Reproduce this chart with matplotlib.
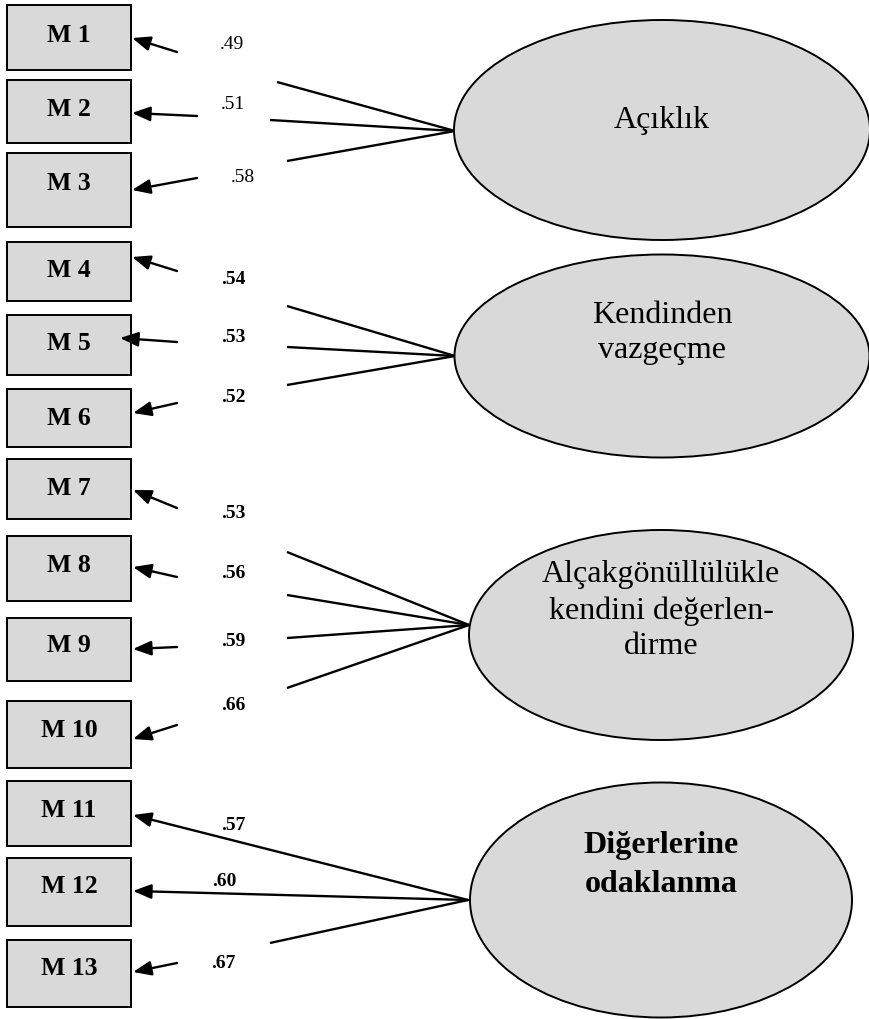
import matplotlib
matplotlib.use('Agg')
import matplotlib.pyplot as plt
from matplotlib.patches import Rectangle, Ellipse

# data
items = ['M 1', 'M 2', 'M 3', 'M 4', 'M 5', 'M 6', 'M 7',
         'M 8', 'M 9', 'M 10', 'M 11', 'M 12', 'M 13']
loadings = ['.49', '.51', '.58', '.54', '.53', '.52', '.53',
            '.56', '.59', '.66', '.57', '.60', '.67']
factor_of_item = [0, 0, 0, 1, 1, 1, 2, 2, 2, 2, 3, 3, 3]
factors = [['Açıklık'],
           ['Kendinden', 'vazgeçme'],
           ['Alçakgönüllülükle', 'kendini değerlen-', 'dirme'],
           ['Diğerlerine', 'odaklanma']]
factor_bold = [False, False, False, True]
loading_bold = [False, False, False, True, True, True, True,
                True, True, True, True, True, True]

# layout (pixels, y down)
box_y = [(5, 70), (80, 143), (153, 227), (242, 301), (315, 375), (389, 447),
         (459, 519), (536, 601), (618, 681), (701, 768), (781, 846),
         (858, 926), (940, 1007)]
box_x = (7, 131)
label_base = [42, 116, 190, 277, 350, 425, 495, 572, 652, 737, 817, 893, 975]
ell = [(662, 130, 416, 220), (662, 356, 415, 203),
       (661, 635, 384, 210), (661, 900, 382, 235)]
ell_text_base = [[128], [323, 358], [582, 619, 654], [853, 892]]
meet = [(455, 131), (455, 356), (469, 625), (468, 900)]
# arrow tail -> head (near the boxes)
arrows = [((177, 52), (132, 38)), ((197, 116), (132, 113)),
          ((197, 178), (132, 190)), ((177, 271), (132, 257)),
          ((177, 342), (120, 338)), ((177, 403), (133, 413)),
          ((177, 508), (133, 490)), ((177, 577), (133, 567)),
          ((177, 647), (133, 649)), ((177, 725), (133, 739)),
          ((468, 900), (133, 815)), ((468, 900), (133, 891)),
          ((177, 963), (133, 972))]
# free ends of lines coming out of the ellipses (None = arrow already joins)
line_ends = [(277, 82), (270, 120), (287, 161), (287, 306), (287, 347),
             (287, 385), (287, 552), (287, 595), (287, 638), (287, 688),
             None, None, (270, 943)]
load_pos = [(232, 44), (233, 104), (243, 177), (233, 279), (233, 338),
            (233, 398), (233, 514), (233, 574), (233, 641), (233, 706),
            (233, 825), (224, 882), (223, 963)]

serif = ['Liberation Serif', 'DejaVu Serif']
fill = '#d9d9d9'

fig = plt.figure(figsize=(8.7, 10.19), dpi=100)
ax = fig.add_axes([0, 0, 1, 1])
ax.set_xlim(0, 870)
ax.set_ylim(1019, 0)
ax.axis('off')

for i, name in enumerate(items):
    y0, y1 = box_y[i]
    ax.add_patch(Rectangle((box_x[0], y0), box_x[1] - box_x[0], y1 - y0,
                           facecolor=fill, edgecolor='black', lw=1.4, zorder=2))
    ax.text((box_x[0] + box_x[1]) / 2, label_base[i], name, family=serif,
            fontweight='bold', fontsize=18.5, ha='center', va='baseline', zorder=3)

    tail, head = arrows[i]
    ax.annotate('', xy=head, xytext=tail,
                arrowprops=dict(arrowstyle='-|>,head_length=0.55,head_width=0.22',
                                mutation_scale=20, lw=1.7, color='black',
                                shrinkA=0, shrinkB=0), zorder=4)
    if line_ends[i] is not None:
        mx, my = meet[factor_of_item[i]]
        ex, ey = line_ends[i]
        ax.plot([ex, mx], [ey, my], color='black', lw=1.7, zorder=1,
                solid_capstyle='butt')

    lx, ly = load_pos[i]
    ax.text(lx, ly, loadings[i], family=serif, fontsize=14,
            fontweight='bold' if loading_bold[i] else 'normal',
            ha='center', va='center', zorder=3)

for k, lines in enumerate(factors):
    cx, cy, w, h = ell[k]
    ax.add_patch(Ellipse((cx, cy), w, h, facecolor=fill, edgecolor='black',
                         lw=1.4, zorder=2))
    for line, yb in zip(lines, ell_text_base[k]):
        ax.text(cx, yb, line, family=serif, fontsize=23,
                fontweight='bold' if factor_bold[k] else 'normal',
                ha='center', va='baseline', zorder=3)

fig.savefig('out.png', dpi=100)
